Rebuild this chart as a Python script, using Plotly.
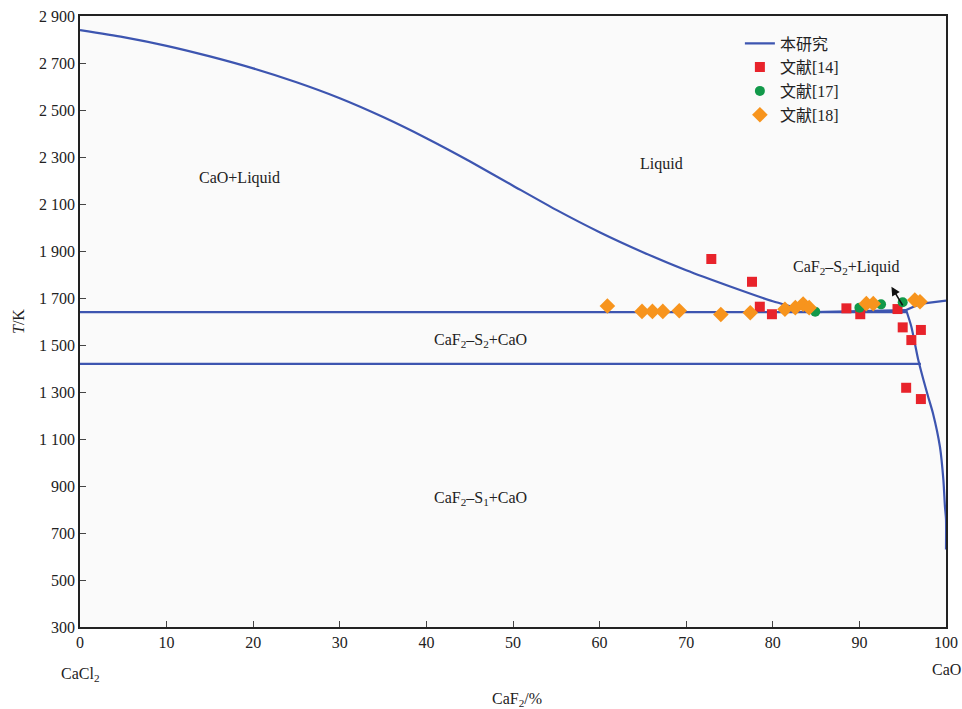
import plotly.graph_objects as go

# ---- data ----
liq_cao_x = [0, 5, 10, 15, 20, 25, 30, 35, 40, 45, 50, 55, 60, 65, 70, 75, 80, 84.6]
liq_cao_T = [2840, 2810, 2773, 2728, 2677, 2618, 2550, 2470, 2380, 2282, 2178, 2075, 1980, 1895, 1818, 1750, 1686, 1640]

liq_caf2_x = [84.6, 90.0, 95.4]
liq_caf2_T = [1640, 1645, 1649]

liq_right_x = [95.4, 97.0, 100.0]
liq_right_T = [1649, 1675, 1689]

eut_x = [0, 95.4]
eut_T = [1640, 1640]

trans_x = [0, 97.1]
trans_T = [1420, 1420]

solvus_x = [95.4, 96.0, 96.8, 97.4, 97.9, 98.5, 99.3, 99.7, 99.88, 100.0, 100.0]
solvus_T = [1649, 1578, 1436, 1351, 1285, 1209, 1067, 925, 812, 760, 630]

ref14_x = [72.9, 77.6, 78.5, 79.9, 88.5, 90.1, 94.4, 95.0, 97.1, 96.0, 95.4, 97.1]
ref14_T = [1866, 1769, 1663, 1631, 1656, 1631, 1653, 1575, 1564, 1521, 1318, 1270]

ref17_x = [84.9, 90.0, 92.5, 95.0]
ref17_T = [1642, 1659, 1673, 1682]

ref18_x = [60.9, 64.9, 66.1, 67.3, 69.2, 74.0, 77.4, 81.4, 82.6, 83.5, 84.2, 90.8, 91.6, 96.4, 97.0]
ref18_T = [1666, 1643, 1643, 1643, 1646, 1630, 1637, 1652, 1659, 1674, 1659, 1676, 1676, 1691, 1684]

y_ticks = list(range(300, 3000, 200))
y_tick_labels = [f"{v // 1000} {v % 1000:03d}" if v >= 1000 else str(v) for v in y_ticks]
x_ticks = list(range(0, 101, 10))

LINE = "#3d55b0"
FONT = "'Liberation Serif', 'Times New Roman', 'Noto Sans CJK SC', serif"

fig = go.Figure()

line_sets = [
    (liq_cao_x, liq_cao_T, "spline", True),
    (liq_caf2_x, liq_caf2_T, "linear", False),
    (liq_right_x, liq_right_T, "linear", False),
    (eut_x, eut_T, "linear", False),
    (trans_x, trans_T, "linear", False),
    (solvus_x, solvus_T, "spline", False),
]
for xs, ts, shape, show in line_sets:
    fig.add_trace(go.Scatter(
        x=xs, y=ts, mode="lines", name="本研究", showlegend=show,
        legendgroup="calc",
        line=dict(color=LINE, width=2.2, shape=shape, smoothing=0.6),
    ))

fig.add_trace(go.Scatter(
    x=ref14_x, y=ref14_T, mode="markers", name="文献[14]",
    marker=dict(symbol="square", color="#e8232b", size=10),
))
fig.add_trace(go.Scatter(
    x=ref17_x, y=ref17_T, mode="markers", name="文献[17]",
    marker=dict(symbol="circle", color="#12994a", size=10),
))
fig.add_trace(go.Scatter(
    x=ref18_x, y=ref18_T, mode="markers", name="文献[18]",
    marker=dict(symbol="diamond", color="#f7941d", size=12),
))

labels = [
    (18.4, 2211, "CaO+Liquid"),
    (67.1, 2270, "Liquid"),
    (46.2, 1521, "CaF<sub>2</sub>–S<sub>2</sub>+CaO"),
    (46.2, 845, "CaF<sub>2</sub>–S<sub>1</sub>+CaO"),
    (88.5, 1828, "CaF<sub>2</sub>–S<sub>2</sub>+Liquid"),
]
for x, y, t in labels:
    fig.add_annotation(x=x, y=y, text=t, showarrow=False,
                       font=dict(family=FONT, size=16, color="#222"))

# arrow
fig.add_annotation(x=93.7, y=1748, ax=95.1, ay=1662, axref="x", ayref="y",
                   text="", showarrow=True, arrowhead=2, arrowsize=1.1,
                   arrowwidth=1.6, arrowcolor="#111")

# end-member labels
fig.add_annotation(x=0, y=-0.078, xref="paper", yref="paper", text="CaCl<sub>2</sub>",
                   xanchor="center", yanchor="middle",
                   showarrow=False, font=dict(family=FONT, size=16, color="#222"))
fig.add_annotation(x=1.0, y=-0.070, xref="paper", yref="paper", text="CaO",
                   xanchor="center", yanchor="middle",
                   showarrow=False, font=dict(family=FONT, size=16, color="#222"))
fig.add_annotation(x=(517 - 80) / 866, y=-0.119, xref="paper", yref="paper",
                   text="CaF<sub>2</sub>/%", showarrow=False,
                   xanchor="center", yanchor="middle",
                   font=dict(family=FONT, size=16, color="#222"))
fig.add_annotation(x=(18 - 80) / 866, y=(627 - 322) / 611, xref="paper", yref="paper",
                   text="<i>T</i>/K", textangle=-90, showarrow=False,
                   xanchor="center", yanchor="middle",
                   font=dict(family=FONT, size=16, color="#222"))

fig.update_layout(
    width=962, height=709,
    margin=dict(l=80, r=16, t=16, b=82),
    paper_bgcolor="white",
    plot_bgcolor="#fafafa",
    font=dict(family=FONT, size=16, color="#222"),
    showlegend=True,
    legend=dict(x=0.762, y=0.983, xanchor="left", yanchor="top",
                bgcolor="rgba(0,0,0,0)", font=dict(family=FONT, size=16, color="#222"),
                tracegroupgap=0, itemwidth=30),
)
fig.update_xaxes(
    range=[0, 100], tickvals=x_ticks, ticks="inside", ticklen=6,
    showline=True, linecolor="#222", linewidth=1.5, mirror=True,
    showgrid=False, zeroline=False, tickfont=dict(family=FONT, size=16),
    automargin=False,
)
fig.update_yaxes(
    range=[300, 2900], tickvals=y_ticks, ticktext=y_tick_labels,
    ticks="inside", ticklen=6,
    showline=True, linecolor="#222", linewidth=1.5, mirror=True,
    showgrid=False, zeroline=False, tickfont=dict(family=FONT, size=16),
    automargin=False,
)

fig.write_html("out.html", config={"displayModeBar": False},
               post_script="document.body.style.margin='0';document.body.style.overflow='hidden';")
